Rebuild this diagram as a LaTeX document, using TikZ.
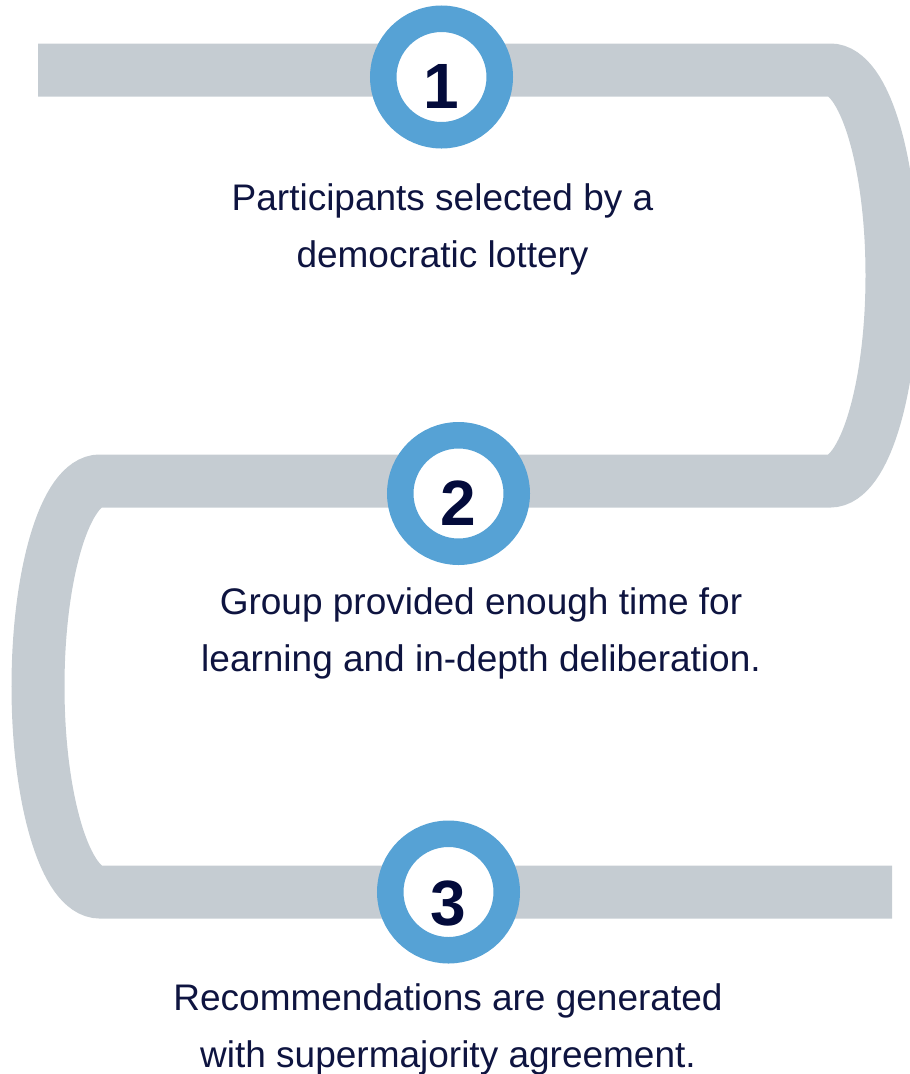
\documentclass[tikz,border=0pt]{standalone}
\usepackage{fontspec}
\setmainfont{Liberation Sans}
\definecolor{band}{HTML}{C5CCD2}
\definecolor{ring}{HTML}{56A2D5}
\definecolor{navy}{HTML}{0E1440}
\definecolor{digit}{HTML}{030B3B}
\begin{document}
\begin{tikzpicture}[x=1pt,y=-1pt,
  bandline/.style={draw=band, line width=53pt, line cap=butt},
  ringnode/.style={circle, draw=ring, line width=26.5pt, fill=white, minimum size=116.5pt, inner sep=0pt},
  numtext/.style={font=\fontsize{64}{64}\selectfont\bfseries, text=digit, anchor=base, inner sep=0pt},
  steptext/.style={font=\fontsize{37}{57}\selectfont, text=navy, align=center, anchor=base, inner sep=0pt}]
\useasboundingbox (0,0) rectangle (910,1074);
\coordinate (s) at (38,70);
\coordinate (e) at (892,892);
\draw[bandline] (s) -- (830,70)
  .. controls (864.2,70) and (892,162) .. (892,275.5)
  .. controls (892,389) and (864.2,481) .. (830,481)
  -- (100,481)
  .. controls (65.8,481) and (38,573) .. (38,686.5)
  .. controls (38,800) and (65.8,892) .. (100,892)
  -- (e);
\node[ringnode] (c1) at (441.5,77) {};
\node[numtext] (n1) at (441.5,108) {1};
\node[ringnode] (c2) at (458.5,493.5) {};
\node[numtext] (n2) at (458.5,525) {2};
\node[ringnode] (c3) at (448.5,892) {};
\node[numtext] (n3) at (448.5,925) {3};
\node[steptext] (t1) at (442.5,267) {Participants selected by a\\democratic lottery};
\node[steptext] (t2) at (481,671) {Group provided enough time for\\learning and in-depth deliberation.};
\node[steptext] (t3) at (448,1067) {Recommendations are generated\\with supermajority agreement.};
\end{tikzpicture}
\end{document}
